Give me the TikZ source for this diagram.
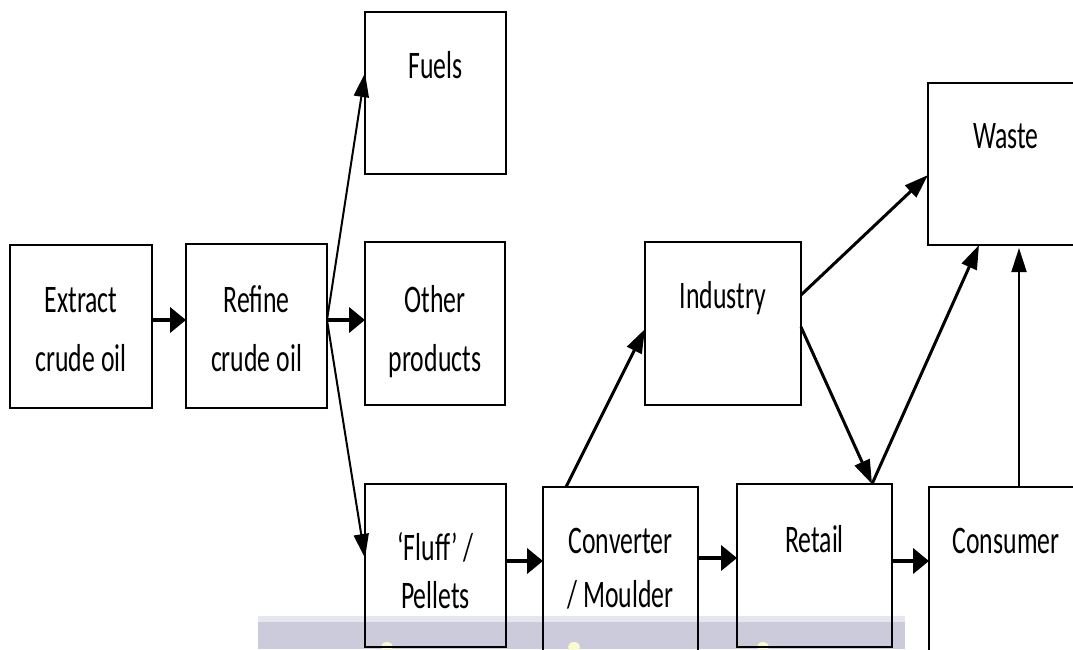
\documentclass[tikz,border=0pt]{standalone}
\usepackage{fontspec}
\setmainfont{Carlito}[FakeStretch=0.66]
\usetikzlibrary{arrows.meta}
\definecolor{bandc}{RGB}{203,203,219}
\definecolor{bandtop}{RGB}{230,230,238}
\definecolor{glow}{RGB}{250,250,210}
\begin{document}
\begin{tikzpicture}[x=1pt,y=-1pt,
  box/.style={draw, line width=2pt, inner sep=0pt, outer sep=0pt},
  txt/.style={font=\fontsize{39}{59}\selectfont, inner sep=0pt, anchor=base, align=center},
  fatarrow/.style={line width=4pt, -{Triangle[length=16pt,width=25pt]}},
  thinarrow/.style={line width=2pt, -{Triangle[length=24pt,width=15pt]}},
  midarrow/.style={line width=3pt, -{Triangle[length=24pt,width=16pt]}}]
\useasboundingbox (0,0) rectangle (1073,649);
\clip (0,0) rectangle (1073,649);
% screenshot band at the bottom
\fill[bandc] (258,621) rectangle (905,649);
\fill[bandtop] (258,616) rectangle (905,622);
\fill[glow] (387,647) ellipse (6 and 5);
\fill[glow] (574,647) ellipse (6 and 5);
\fill[glow] (763,647) ellipse (6 and 5);
% boxes
\node[box, minimum width=142, minimum height=163] (ext) at (81,326.5) {};
\node[box, minimum width=141, minimum height=164] (ref) at (256.5,326) {};
\node[box, minimum width=141, minimum height=162] (fuel) at (435.5,93) {};
\node[box, minimum width=140, minimum height=163] (oth) at (435,323.5) {};
\node[box, minimum width=156, minimum height=163] (ind) at (723,323.5) {};
\node[box, minimum width=156, minimum height=162] (waste) at (1006,164) {};
\node[box, minimum width=141, minimum height=163] (fluff) at (435.5,565.5) {};
\node[box, minimum width=155, minimum height=165] (conv) at (620.5,569.5) {};
\node[box, minimum width=155, minimum height=163] (retail) at (814.5,565.5) {};
\node[box, minimum width=155, minimum height=173] (cons) at (1006.5,573.5) {};
% texts (base anchor = last line)
\node[txt] (ext-t) at (81,371) {Extract\\crude oil};
\node[txt] (ref-t) at (256.5,371) {Refine\\crude oil};
\node[txt] (fuel-t) at (435.5,78) {Fuels};
\node[txt] (oth-t) at (435,371) {Other\\products};
\node[txt] (ind-t) at (723,308) {Industry};
\node[txt] (waste-t) at (1006,148) {Waste};
\node[txt, font=\fontsize{39}{48}\selectfont] (fluff-t) at (435.5,608) {‘Fluff’ /\\Pellets};
\node[txt, font=\fontsize{39}{54}\selectfont] (conv-t) at (620.5,607) {Converter\\/ Moulder};
\node[txt] (retail-t) at (814.5,552) {Retail};
\node[txt] (cons-t) at (1006,553) {Consumer};
% connectors
\path ([yshift=6.5]ext.east) coordinate (p1);
\draw[fatarrow] (p1) -- (p1 -| ref.west);
\path ([yshift=6]ref.east) coordinate (p2);
\draw[fatarrow] (p2) -- (p2 -| oth.west);
\draw[thinarrow] (p2) -- ([yshift=20]fuel.west);
\draw[thinarrow] (p2) -- ([yshift=7.5]fluff.west);
\path ([yshift=4.5]fluff.east) coordinate (p3);
\draw[fatarrow] (p3) -- (p3 -| conv.west);
\path ([yshift=11.5]conv.east) coordinate (p4);
\draw[fatarrow] (p4) -- (p4 -| retail.west);
\path ([yshift=4.5]retail.east) coordinate (p5);
\draw[fatarrow] (p5) -- (p5 -| cons.west);
\draw[midarrow] ([xshift=-54.5]conv.north) -- ([yshift=-5.5]ind.west);
\draw[midarrow] ([yshift=28.5]ind.east) -- ([yshift=-11]waste.west);
\path ([xshift=57.5]retail.north) coordinate (p6);
\draw[midarrow] ([yshift=-3.5]ind.east) -- (p6);
\draw[midarrow] (p6) -- ([xshift=-27]waste.south);
\path ([xshift=12.5]cons.north) coordinate (p7);
\draw[thinarrow] (p7) -- ([yshift=-3]p7 |- waste.south);
\end{tikzpicture}
\end{document}
